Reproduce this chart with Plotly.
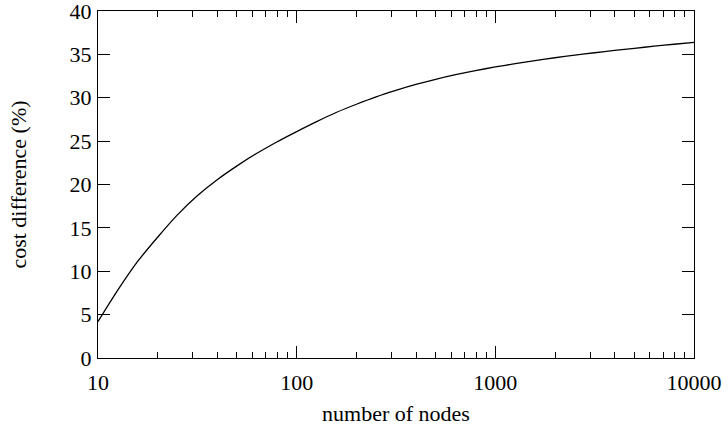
import plotly.graph_objects as go

nodes = [10, 12.6, 15.8, 20, 25.1, 31.6, 39.8, 50.1, 63.1, 79.4,
         100, 126, 158, 200, 251, 316, 398, 501, 631, 794,
         1000, 1259, 1585, 1995, 2512, 3162, 3981, 5012, 6310, 7943, 10000]
cost_diff = [4.2, 7.85, 11.1, 13.95, 16.5, 18.7, 20.55, 22.15, 23.6, 24.9,
             26.1, 27.25, 28.3, 29.25, 30.1, 30.85, 31.53, 32.13, 32.66, 33.13,
             33.55, 33.93, 34.28, 34.61, 34.91, 35.19, 35.45, 35.7, 35.94, 36.17, 36.39]

x_ticks = [10, 100, 1000, 10000]
x_labels = ["10", "100", "1000", "10000"]
y_ticks = [0, 5, 10, 15, 20, 25, 30, 35, 40]
x_minor = [m * d for d in (10, 100, 1000) for m in range(2, 10)]

font = "Liberation Serif, Times New Roman, serif"

fig = go.Figure()
fig.add_trace(go.Scatter(x=nodes, y=cost_diff, mode="lines",
                         line=dict(color="black", width=1.3, shape="spline", smoothing=0.8),
                         showlegend=False, cliponaxis=False))

axis_common = dict(showline=True, linecolor="black", linewidth=1.2, mirror="ticks",
                   ticks="inside", ticklen=12, tickwidth=1, tickcolor="black",
                   showgrid=False, zeroline=False, automargin=False,
                   ticklabeloverflow="allow",
                   tickfont=dict(family=font, size=22, color="black"))

fig.update_xaxes(type="log", range=[1, 4], tickvals=x_ticks, ticktext=x_labels,
                 ticklabelstandoff=4,
                 title=dict(text="number of nodes", font=dict(family=font, size=22, color="black"),
                            standoff=13),
                 minor=dict(tickvals=x_minor, ticks="inside", ticklen=6, tickwidth=1,
                            tickcolor="black", showgrid=False),
                 **axis_common)
fig.update_yaxes(range=[0, 40], tickvals=y_ticks, ticklabelstandoff=1,
                 title=dict(text="cost difference (%)", font=dict(family=font, size=22, color="black"),
                            standoff=36),
                 **axis_common)

fig.update_layout(width=728, height=426, margin=dict(l=98, r=34, t=11, b=68),
                  plot_bgcolor="white", paper_bgcolor="white",
                  font=dict(family=font, color="black"))

fig.write_html("out.html", config={"displayModeBar": False},
               post_script="document.body.style.margin='0';document.body.style.overflow='hidden';")
